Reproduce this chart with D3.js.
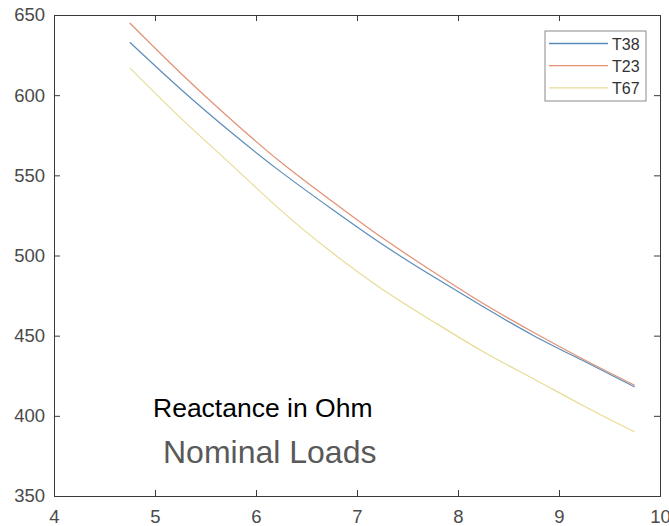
<!DOCTYPE html>
<html>
<head>
<meta charset="utf-8">
<script src="https://cdn.jsdelivr.net/npm/d3@7"></script>
<style>
  body { margin: 0; background: #fff; }
  svg { display: block; font-family: "Liberation Sans", Arial, sans-serif; }
</style>
</head>
<body>
<div id="chart"></div>
<script>
// data
var loads = [4.75, 5.25, 5.75, 6.25, 6.75, 7.25, 7.75, 8.25, 8.75, 9.25, 9.75];
var t38 = [633, 604, 577, 552, 529, 507, 487, 468, 450, 434, 418];
var t23 = [645, 614, 585, 558, 534, 511, 490, 470, 452, 435, 419];
var t67 = [617, 586, 557, 528, 502, 479, 459, 440, 423, 406, 390];
var seriesNames = ["T38", "T23", "T67"];
var xTicks = [4, 5, 6, 7, 8, 9, 10];
var yTicks = [350, 400, 450, 500, 550, 600, 650];

var svgWidth = 669;
var svgHeight = 526;

var margin = {top: 15, right: 9, bottom: 30, left: 54};
var width = svgWidth - margin.left - margin.right;
var height = svgHeight - margin.top - margin.bottom;

var colors = ["#5b8cb9", "#e29174", "#e7dc96"];

var svg = d3.select("#chart")
  .append("svg")
  .attr("width", svgWidth)
  .attr("height", svgHeight);

var chart = svg.append("g")
  .attr("transform", `translate(${margin.left}, ${margin.top})`);

var x = d3.scaleLinear().domain([4, 10]).range([0, width]);
var y = d3.scaleLinear().domain([350, 650]).range([height, 0]);

// axes: ticks pointing inward, matlab style
var bottomAxis = d3.axisBottom(x).tickValues(xTicks).tickSize(-6).tickPadding(14).tickFormat(d3.format("d"));
var leftAxis = d3.axisLeft(y).tickValues(yTicks).tickSize(-6).tickPadding(9).tickFormat(d3.format("d"));
var topAxis = d3.axisTop(x).tickValues(xTicks).tickSize(-6).tickFormat("");
var rightAxis = d3.axisRight(y).tickValues(yTicks).tickSize(-6).tickFormat("");

chart.append("g").attr("class", "axis").attr("transform", `translate(0, ${height})`).call(bottomAxis);
chart.append("g").attr("class", "axis").call(leftAxis);
chart.append("g").attr("class", "axis").call(topAxis);
chart.append("g").attr("class", "axis").attr("transform", `translate(${width}, 0)`).call(rightAxis);

chart.selectAll(".axis path, .axis line")
  .attr("stroke", "#3a3a3a")
  .attr("stroke-width", 1);
chart.selectAll(".axis text")
  .attr("fill", "#4a4a4a")
  .style("font-size", "18.5px");

// lines
var allSeries = [t38, t23, t67];
var line = d3.line()
  .x(function(d, i) { return x(loads[i]); })
  .y(function(d) { return y(d); })
  .curve(d3.curveNatural);

chart.selectAll(".series")
  .data(allSeries)
  .enter()
  .append("path")
  .attr("class", "series")
  .attr("fill", "none")
  .attr("stroke", (d, i) => colors[i])
  .attr("stroke-width", 1.2)
  .attr("d", line);

// text annotations
svg.append("text")
  .attr("x", 153)
  .attr("y", 417)
  .attr("fill", "#000")
  .style("font-size", "26.5px")
  .text("Reactance in Ohm");

svg.append("text")
  .attr("x", 163)
  .attr("y", 463)
  .attr("fill", "#595959")
  .style("font-size", "32px")
  .text("Nominal Loads");

// legend
var legend = svg.append("g").attr("transform", "translate(545, 31)");
legend.append("rect")
  .attr("width", 101)
  .attr("height", 70)
  .attr("fill", "#fff")
  .attr("stroke", "#8a8a8a")
  .attr("stroke-width", 1);

var items = legend.selectAll(".item")
  .data(seriesNames)
  .enter()
  .append("g")
  .attr("transform", (d, i) => `translate(0, ${12.5 + i * 22.2})`);

items.append("line")
  .attr("x1", 4).attr("x2", 63)
  .attr("stroke", (d, i) => colors[i])
  .attr("stroke-width", 1.3);

items.append("text")
  .attr("x", 67)
  .attr("y", 6)
  .attr("fill", "#333")
  .style("font-size", "16px")
  .text(d => d);
</script>
</body>
</html>
